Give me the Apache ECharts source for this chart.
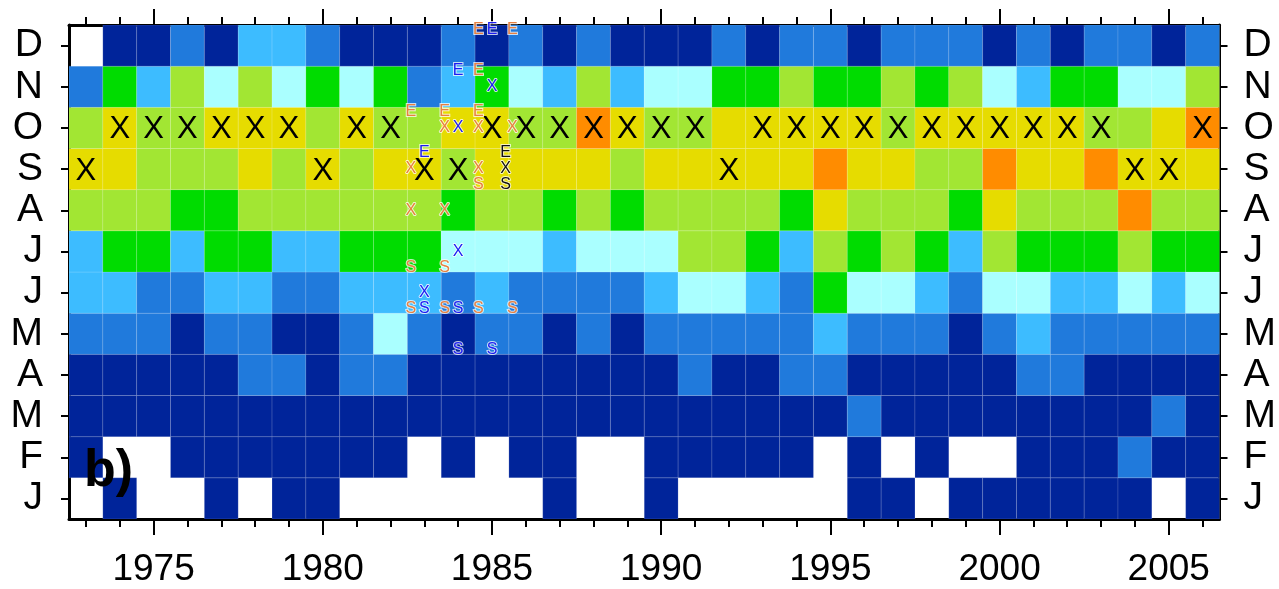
<!DOCTYPE html>
<html>
<head>
<meta charset="utf-8">
<script src="https://cdn.jsdelivr.net/npm/echarts@6/dist/echarts.min.js"></script>
<style>
html, body { margin: 0; padding: 0; background: #fff; }
#chart { width: 1279px; height: 589px; }
</style>
</head>
<body>
<div id="chart"></div>
<script>
// Years along the x axis (one column each)
const years = [1973, 1974, 1975, 1976, 1977, 1978, 1979, 1980, 1981, 1982, 1983, 1984,
  1985, 1986, 1987, 1988, 1989, 1990, 1991, 1992, 1993, 1994, 1995, 1996, 1997, 1998,
  1999, 2000, 2001, 2002, 2003, 2004, 2005, 2006];
const yearTicks = [1975, 1980, 1985, 1990, 1995, 2000, 2005];
const monthLabels = ['J', 'F', 'M', 'A', 'M', 'J', 'J', 'A', 'S', 'O', 'N', 'D'];

// Class of each month per year: 0 = no data, 1 (lowest) .. 8 (highest)
const lvlJan = [0,1,0,0,1,0,1,1,0,0,0,0,0,0,1,0,0, 1,0,0,0,0,0,1,1,0,1,1,1,1,1,1,0,1];
const lvlFeb = [1,0,0,1,1,1,1,1,1,1,0,1,0,1,1,0,0, 1,1,1,1,1,0,1,0,1,0,0,1,1,1,2,1,1];
const lvlMar = [1,1,1,1,1,1,1,1,1,1,1,1,1,1,1,1,1, 1,1,1,1,1,1,2,1,1,1,1,1,1,1,1,2,1];
const lvlApr = [1,1,1,1,1,2,2,1,2,2,1,1,1,1,1,1,1, 1,2,1,1,2,2,1,1,1,1,1,2,2,1,1,1,1];
const lvlMay = [2,2,2,1,2,2,1,1,2,4,2,1,2,2,1,2,1, 2,2,2,2,2,3,2,2,2,1,2,3,2,2,2,2,2];
const lvlJun = [3,3,2,2,3,3,2,2,3,3,3,2,3,2,2,2,2, 3,4,4,3,2,5,4,4,3,2,4,4,3,3,4,3,4];
const lvlJul = [3,5,5,3,5,5,3,3,5,5,5,4,4,4,3,4,4, 4,6,6,5,3,6,5,6,5,3,6,5,5,5,6,5,5];
const lvlAug = [6,6,6,5,5,6,6,6,6,6,6,5,6,6,5,6,5, 6,6,6,6,5,7,6,6,6,5,7,6,6,6,8,6,6];
const lvlSep = [7,7,6,6,6,7,6,7,6,7,7,6,7,7,7,7,6, 7,7,7,7,7,8,7,7,6,6,8,7,7,8,7,7,7];
const lvlOct = [6,7,6,6,7,7,7,6,7,6,6,7,7,6,6,8,7, 6,6,7,7,7,7,7,6,7,7,7,7,7,6,6,7,8];
const lvlNov = [2,5,3,6,4,6,4,5,4,5,2,3,5,4,3,6,3, 4,4,5,5,6,5,5,6,5,6,4,3,5,5,4,4,6];
const lvlDec = [0,1,1,2,1,3,3,2,1,1,1,2,1,2,1,2,1, 1,1,2,1,2,2,1,2,2,2,1,2,1,2,2,1,2];

// Years whose September / October cell carries a large X
const sepMarked = [1973, 1980, 1983, 1984, 1992, 2004, 2005];
const octMarked = [1974, 1975, 1976, 1977, 1978, 1979, 1981, 1982, 1985, 1986, 1987, 1988,
  1989, 1990, 1991, 1993, 1994, 1995, 1996, 1997, 1998, 1999, 2000, 2001, 2002, 2003, 2006];

// Small event letters: [time in years, month (1-12), letter, colour key]
const notes = [
  [1984.6, 12, 'E', 'o'], [1985.0, 12, 'E', 'b'], [1985.6, 12, 'E', 'o'],
  [1984.0, 11, 'E', 'b'], [1984.6, 11, 'E', 'o'], [1985.0, 11, 'X', 'b'],
  [1982.6, 10, 'E', 'o'], [1983.6, 10, 'E', 'o'], [1984.6, 10, 'E', 'o'],
  [1983.6, 10, 'X', 'o'], [1984.0, 10, 'X', 'b'], [1984.6, 10, 'X', 'o'], [1985.6, 10, 'X', 'o'],
  [1983.0, 9, 'E', 'b'], [1982.6, 9, 'X', 'o'], [1984.6, 9, 'X', 'o'], [1984.6, 9, 'S', 'o'],
  [1985.4, 9, 'E', 'k'], [1985.4, 9, 'X', 'k'], [1985.4, 9, 'S', 'k'],
  [1982.6, 8, 'X', 'o'], [1983.6, 8, 'X', 'o'],
  [1984.0, 7, 'X', 'b'], [1982.6, 7, 'S', 'o'], [1983.6, 7, 'S', 'o'],
  [1983.0, 6, 'X', 'b'], [1982.6, 6, 'S', 'o'], [1983.0, 6, 'S', 'b'], [1983.6, 6, 'S', 'o'],
  [1984.0, 6, 'S', 'b'], [1984.6, 6, 'S', 'o'], [1985.6, 6, 'S', 'o'],
  [1984.0, 5, 'S', 'b'], [1985.0, 5, 'S', 'b']
];

const levelColors = [null, '#00249A', '#207ADC', '#3DBCFF', '#AAFFFF', '#00DC00', '#A2E633', '#E6DC00', '#FF8C00'];
const noteColors = { o: '#E8803F', b: '#1C1CF2', k: '#111111' };
const FONT = '"Liberation Sans", Arial, sans-serif';

const monthRows = [lvlJan, lvlFeb, lvlMar, lvlApr, lvlMay, lvlJun, lvlJul, lvlAug, lvlSep, lvlOct, lvlNov, lvlDec];
const cells = [];
monthRows.forEach((row, mi) => {
  row.forEach((lvl, yi) => cells.push([years[yi], mi + 1, lvl]));
});
const bigMarks = sepMarked.map(y => [y, 9]).concat(octMarked.map(y => [y, 10]));
const allYears = years.slice();
const months = monthLabels.map((_, i) => i + 1);

const chart = echarts.init(document.getElementById('chart'), null, { renderer: 'canvas' });

function xAxisDef(pos, ticks, len, withLabels, showLine) {
  return {
    type: 'value', position: pos, min: 1972.5, max: 2006.5,
    axisLine: { show: showLine, lineStyle: { color: '#000', width: 3 } },
    axisTick: { show: true, customValues: ticks, length: len, lineStyle: { color: '#000', width: 2 } },
    axisLabel: withLabels ? {
      show: true, customValues: yearTicks, color: '#000', fontSize: 37, fontFamily: FONT, margin: 32,
      formatter: v => String(v)
    } : { show: false },
    splitLine: { show: false }
  };
}
function yAxisDef(pos, margin) {
  return {
    type: 'value', position: pos, min: 0.5, max: 12.5,
    axisLine: { show: true, lineStyle: { color: '#000', width: 3 } },
    axisTick: { show: true, customValues: months, length: 8, lineStyle: { color: '#000', width: 2 } },
    axisLabel: {
      show: true, customValues: months, color: '#000', fontSize: 39, fontFamily: FONT, margin: margin,
      formatter: v => monthLabels[Math.round(v) - 1]
    },
    splitLine: { show: false }
  };
}

chart.setOption({
  animation: false,
  backgroundColor: '#fff',
  grid: { left: 69, top: 25, width: 1154, height: 494, containLabel: false },
  xAxis: [
    xAxisDef('bottom', yearTicks, 16, true, true),
    xAxisDef('bottom', allYears, 8, false, false),
    xAxisDef('top', yearTicks, 16, false, true),
    xAxisDef('top', allYears, 8, false, false)
  ],
  yAxis: [yAxisDef('left', 26), yAxisDef('right', 24)],
  series: [
    {
      type: 'custom', name: 'cells', xAxisIndex: 0, yAxisIndex: 0, clip: true,
      data: cells,
      renderItem: (params, api) => {
        const lvl = api.value(2);
        if (!lvl) return null;
        const p0 = api.coord([api.value(0) - 0.5, api.value(1) + 0.5]);
        const p1 = api.coord([api.value(0) + 0.5, api.value(1) - 0.5]);
        return {
          type: 'rect',
          shape: { x: p0[0], y: p0[1], width: p1[0] - p0[0], height: p1[1] - p0[1] },
          style: { fill: levelColors[lvl], stroke: 'rgba(255,255,255,0.13)', lineWidth: 1 }
        };
      }
    },
    {
      type: 'custom', name: 'marks', xAxisIndex: 0, yAxisIndex: 0, clip: false, z: 3,
      data: bigMarks,
      renderItem: (params, api) => {
        const p = api.coord([api.value(0), api.value(1)]);
        return {
          type: 'text', x: p[0], y: p[1] + 2,
          style: { text: 'X', fill: '#000', font: '31px ' + FONT, align: 'center', verticalAlign: 'middle' }
        };
      }
    },
    {
      type: 'custom', name: 'events', xAxisIndex: 0, yAxisIndex: 0, clip: false, z: 4,
      data: notes,
      renderItem: (params, api) => {
        const n = notes[params.dataIndex];
        const p = api.coord([n[0], n[1]]);
        const dy = n[2] === 'E' ? -16 : (n[2] === 'S' ? 16 : 0);
        return {
          type: 'text', x: p[0], y: p[1] + dy,
          style: {
            text: n[2], fill: noteColors[n[3]], font: '16px ' + FONT,
            align: 'center', verticalAlign: 'middle',
            stroke: 'rgba(255,255,255,0.75)', lineWidth: 2
          }
        };
      }
    }
  ],
  graphic: [
    {
      type: 'text', left: 84, top: 446, z: 10,
      style: { text: 'b)', fill: '#000', font: 'bold 52px ' + FONT }
    }
  ]
});
</script>
</body>
</html>
